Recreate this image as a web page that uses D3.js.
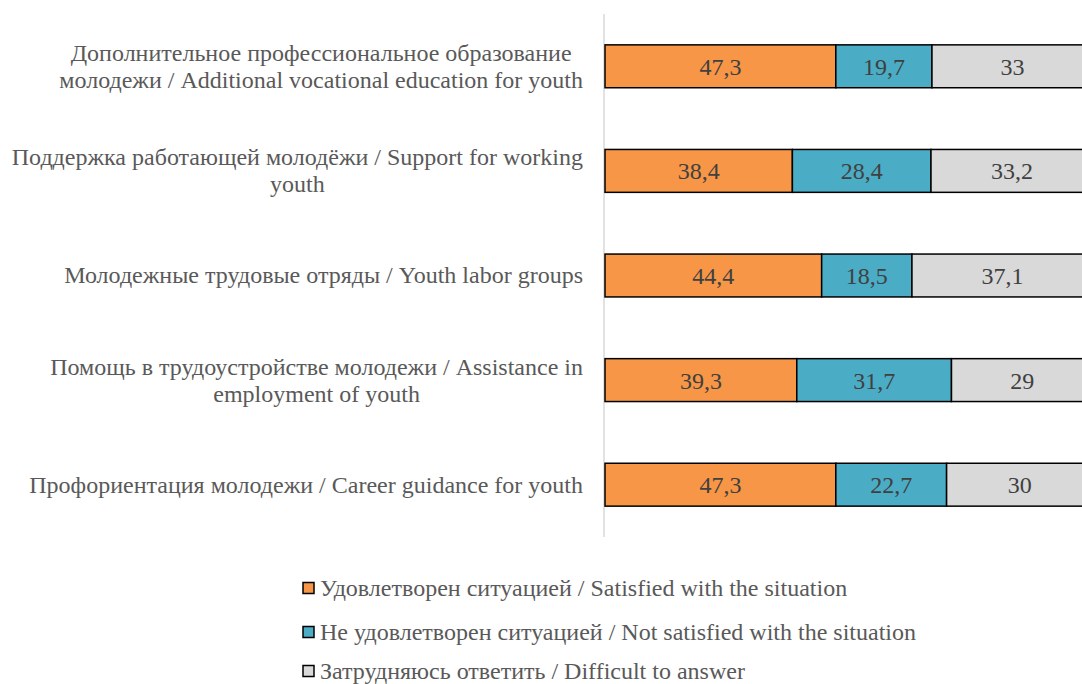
<!DOCTYPE html>
<html>
<head>
<meta charset="utf-8">
<script src="https://cdn.jsdelivr.net/npm/d3@7"></script>
<style>
  body { margin: 0; background: #fff; }
  svg { display: block; }
</style>
</head>
<body>
<div id="chart"></div>
<script>
// Stacked 100% bar chart of youth employment-support opinions

const categories = [
  ["Дополнительное профессиональное образование", "молодежи / Additional vocational education for youth"],
  ["Поддержка работающей молодёжи / Support for working", "youth"],
  ["Молодежные трудовые отряды / Youth labor groups"],
  ["Помощь в трудоустройстве молодежи / Assistance in", "employment of youth"],
  ["Профориентация молодежи / Career guidance for youth"],
];
const satisfied = [47.3, 38.4, 44.4, 39.3, 47.3];
const notSatisfied = [19.7, 28.4, 18.5, 31.7, 22.7];
const difficult = [33, 33.2, 37.1, 29, 30];
const seriesNames = [
  "Удовлетворен ситуацией / Satisfied with the situation",
  "Не удовлетворен ситуацией / Not satisfied with the situation",
  "Затрудняюсь ответить / Difficult to answer",
];
const colours = ["#F79646", "#4BACC6", "#D9D9D9"];

const width = 1082;
const height = 684;
const textColour = "#595959";
const fontFamily = "Liberation Serif";
const fontSize = 24;

let svg = d3
  .select("#chart")
  .append("svg")
  .attr("width", width)
  .attr("height", height);

const rows = categories.map((c, i) => ({
  idx: i,
  vals: [satisfied[i], notSatisfied[i], difficult[i]],
}));

// the plot runs off the right edge in the original, so the range goes past width
const x = d3.scaleLinear().domain([0, 100]).range([605, 1093]);
const y = d3
  .scaleBand()
  .domain(d3.range(categories.length))
  .range([14, 537])
  .paddingInner(0.59)
  .paddingOuter(0.295);

// axis line
svg
  .append("line")
  .attr("x1", 604)
  .attr("x2", 604)
  .attr("y1", 14)
  .attr("y2", 537)
  .attr("stroke", "#d9d9d9")
  .attr("stroke-width", 1.5);

// bars
rows.forEach((row) => {
  let start = 0;
  row.vals.forEach((v, j) => {
    const x0 = x(start);
    const x1 = x(start + v);
    svg
      .append("rect")
      .attr("x", x0)
      .attr("y", y(row.idx))
      .attr("width", x1 - x0)
      .attr("height", y.bandwidth())
      .attr("fill", colours[j])
      .attr("stroke", "#000")
      .attr("stroke-width", 1.5);
    svg
      .append("text")
      .attr("x", (x0 + x1) / 2)
      .attr("y", y(row.idx) + y.bandwidth() / 2)
      .attr("dy", "0.35em")
      .attr("text-anchor", "middle")
      .attr("font-family", fontFamily)
      .attr("font-size", fontSize)
      .attr("fill", "#404040")
      .text(String(v).replace(".", ","));
    start += v;
  });
});

// category labels, each block centred on its widest line, right edge at 583
const labelRight = 583;
const lineH = 27;
rows.forEach((row) => {
  const lines = categories[row.idx];
  const g = svg.append("g");
  const texts = lines.map((l, k) =>
    g
      .append("text")
      .attr("y", y(row.idx) + y.bandwidth() / 2 + (k - (lines.length - 1) / 2) * lineH)
      .attr("dy", "0.33em")
      .attr("text-anchor", "middle")
      .attr("font-family", fontFamily)
      .attr("font-size", fontSize)
      .attr("fill", textColour)
      .text(l)
  );
  const maxW = d3.max(texts, (t) => t.node().getComputedTextLength());
  texts.forEach((t) => t.attr("x", labelRight - maxW / 2));
});

// legend
const legendY = [588, 632, 671];
seriesNames.forEach((name, i) => {
  svg
    .append("rect")
    .attr("x", 303)
    .attr("y", legendY[i] - 5.5)
    .attr("width", 11)
    .attr("height", 11)
    .attr("fill", colours[i])
    .attr("stroke", "#000")
    .attr("stroke-width", 1.5);
  svg
    .append("text")
    .attr("x", 320)
    .attr("y", legendY[i])
    .attr("dy", "0.33em")
    .attr("font-family", fontFamily)
    .attr("font-size", fontSize)
    .attr("fill", textColour)
    .text(name);
});
</script>
</body>
</html>
